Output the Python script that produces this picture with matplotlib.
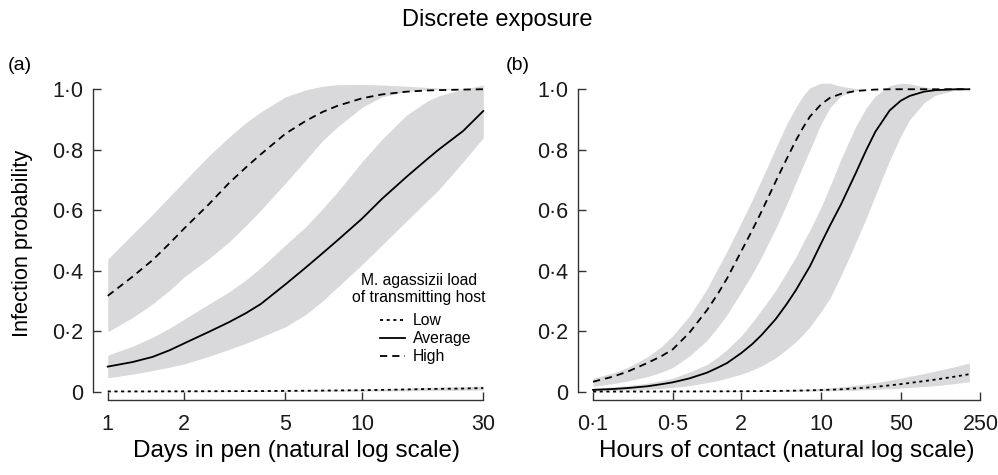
import matplotlib
matplotlib.use('Agg')
import matplotlib.pyplot as plt
from matplotlib.lines import Line2D

plt.rcParams['font.family'] = ['Liberation Sans', 'DejaVu Sans']
plt.rcParams['lines.scale_dashes'] = False

# panel (a): days in pen
days = [1, 1.25, 1.5, 1.75, 2, 2.5, 3, 3.5, 4, 5, 6, 7, 8, 10, 12, 15, 18, 20, 25, 30]
a_low = [0.001, 0.001, 0.001, 0.0012, 0.0013, 0.0016, 0.0018, 0.002, 0.0022, 0.0027,
         0.0032, 0.0037, 0.0042, 0.005, 0.006, 0.0075, 0.009, 0.0095, 0.0105, 0.012]
a_low_hi = [0.002, 0.002, 0.002, 0.0023, 0.0025, 0.0029, 0.0032, 0.0035, 0.0038, 0.0046,
            0.0053, 0.006, 0.0068, 0.008, 0.0095, 0.012, 0.014, 0.015, 0.0165, 0.019]
a_low_lo = [0.0, 0.0, 0.0, 0.0, 0.0001, 0.0003, 0.0005, 0.0006, 0.0007, 0.001,
            0.0012, 0.0014, 0.0017, 0.002, 0.0025, 0.003, 0.004, 0.0043, 0.005, 0.0055]
a_avg = [0.083, 0.098, 0.115, 0.137, 0.16, 0.198, 0.23, 0.26, 0.29, 0.355,
         0.41, 0.458, 0.50, 0.572, 0.638, 0.711, 0.768, 0.80, 0.862, 0.928]
a_avg_hi = [0.121, 0.15, 0.18, 0.21, 0.24, 0.29, 0.33, 0.37, 0.41, 0.485,
            0.545, 0.605, 0.66, 0.76, 0.835, 0.915, 0.96, 0.978, 1.0, 1.014]
a_avg_lo = [0.046, 0.058, 0.07, 0.081, 0.092, 0.117, 0.14, 0.16, 0.18, 0.215,
            0.255, 0.30, 0.345, 0.42, 0.485, 0.565, 0.63, 0.667, 0.76, 0.84]
a_high = [0.317, 0.38, 0.435, 0.49, 0.54, 0.62, 0.69, 0.742, 0.785, 0.853,
          0.895, 0.925, 0.945, 0.97, 0.983, 0.992, 0.996, 0.997, 0.999, 1.0]
a_high_hi = [0.438, 0.52, 0.586, 0.645, 0.696, 0.78, 0.842, 0.89, 0.925, 0.975,
             0.998, 1.01, 1.015, 1.016, 1.014, 1.01, 1.006, 1.004, 1.002, 1.0]
a_high_lo = [0.198, 0.245, 0.29, 0.335, 0.38, 0.44, 0.495, 0.55, 0.60, 0.69,
             0.765, 0.83, 0.875, 0.94, 0.975, 0.993, 0.998, 1.0, 1.0, 1.0]

# panel (b): hours of contact
hours = [0.1, 0.15, 0.2, 0.3, 0.4, 0.5, 0.7, 1, 1.25, 1.5, 2, 2.5, 3, 4, 5, 6, 7, 8, 10, 12,
         15, 20, 25, 30, 40, 50, 60, 80, 100, 150, 200]
b_low = [0.0005, 0.0005, 0.0006, 0.0007, 0.0008, 0.0008, 0.0009, 0.001, 0.0012, 0.0013,
         0.0015, 0.0018, 0.002, 0.0025, 0.003, 0.0035, 0.004, 0.0045, 0.0055, 0.0065,
         0.008, 0.011, 0.0135, 0.016, 0.021, 0.025, 0.029, 0.035, 0.04, 0.05, 0.058]
b_low_hi = [0.001, 0.001, 0.0012, 0.0014, 0.0015, 0.0016, 0.0018, 0.002, 0.0023, 0.0025,
            0.003, 0.0035, 0.004, 0.005, 0.006, 0.007, 0.008, 0.009, 0.011, 0.013,
            0.016, 0.021, 0.026, 0.03, 0.038, 0.045, 0.051, 0.06, 0.068, 0.083, 0.095]
b_low_lo = [0.0, 0.0, 0.0, 0.0, 0.0001, 0.0002, 0.0003, 0.0005, 0.0005, 0.0006,
            0.0008, 0.0009, 0.001, 0.0012, 0.0015, 0.0017, 0.002, 0.0022, 0.0027, 0.0032,
            0.004, 0.005, 0.0065, 0.008, 0.01, 0.012, 0.014, 0.017, 0.02, 0.027, 0.033]
b_avg = [0.006, 0.009, 0.012, 0.018, 0.025, 0.031, 0.044, 0.063, 0.08, 0.095,
         0.128, 0.158, 0.187, 0.24, 0.29, 0.335, 0.378, 0.415, 0.49, 0.55,
         0.62, 0.72, 0.80, 0.86, 0.93, 0.962, 0.978, 0.992, 0.997, 1.0, 1.0]
b_avg_hi = [0.012, 0.016, 0.02, 0.028, 0.037, 0.045, 0.065, 0.09, 0.115, 0.14,
            0.185, 0.23, 0.27, 0.335, 0.395, 0.445, 0.495, 0.535, 0.61, 0.68,
            0.77, 0.875, 0.94, 0.978, 1.012, 1.02, 1.018, 1.008, 1.002, 1.0, 1.0]
b_avg_lo = [0.002, 0.0035, 0.005, 0.008, 0.011, 0.014, 0.02, 0.03, 0.037, 0.045,
            0.058, 0.072, 0.085, 0.112, 0.14, 0.165, 0.19, 0.215, 0.265, 0.31,
            0.385, 0.49, 0.575, 0.65, 0.765, 0.845, 0.90, 0.955, 0.98, 0.997, 1.0]
b_high = [0.033, 0.05, 0.066, 0.095, 0.118, 0.14, 0.195, 0.27, 0.325, 0.375,
          0.465, 0.535, 0.595, 0.695, 0.77, 0.83, 0.875, 0.91, 0.95, 0.972,
          0.985, 0.994, 0.997, 0.999, 1.0, 1.0, 1.0, 1.0, 1.0, 1.0, 1.0]
b_high_hi = [0.045, 0.062, 0.08, 0.115, 0.15, 0.185, 0.25, 0.34, 0.41, 0.465,
             0.56, 0.635, 0.70, 0.805, 0.885, 0.94, 0.98, 1.005, 1.02, 1.02,
             1.01, 1.002, 1.0, 1.0, 1.0, 1.0, 1.0, 1.0, 1.0, 1.0, 1.0]
b_high_lo = [0.018, 0.027, 0.035, 0.05, 0.065, 0.08, 0.118, 0.17, 0.215, 0.255,
             0.33, 0.39, 0.445, 0.54, 0.62, 0.69, 0.75, 0.80, 0.885, 0.94,
             0.978, 0.995, 1.0, 1.0, 1.0, 1.0, 1.0, 1.0, 1.0, 1.0, 1.0]

y_ticks = [0, 0.2, 0.4, 0.6, 0.8, 1.0]
y_labels = ['0', '0·2', '0·4', '0·6', '0·8', '1·0']
a_ticks = [1, 2, 5, 10, 30]
a_labels = ['1', '2', '5', '10', '30']
b_ticks = [0.1, 0.5, 2, 10, 50, 250]
b_labels = ['0·1', '0·5', '2', '10', '50', '250']
legend_labels = ['Low', 'Average', 'High']

band = '#d9d9db'
axcol = '#333333'
low_style = dict(color='black', lw=1.3, dashes=(2.2, 2.6))
avg_style = dict(color='black', lw=1.3)
high_style = dict(color='black', lw=1.3, dashes=(5.2, 3.6))


def draw(ax, x, low, low_hi, low_lo, avg, avg_hi, avg_lo, high, high_hi, high_lo):
    ax.fill_between(x, low_lo, low_hi, color=band, lw=0)
    ax.fill_between(x, avg_lo, avg_hi, color=band, lw=0)
    ax.fill_between(x, high_lo, high_hi, color=band, lw=0)
    ax.plot(x, low, **low_style)
    ax.plot(x, avg, **avg_style)
    ax.plot(x, high, **high_style)


def style(ax, xlim, ticks, labels):
    ax.set_xscale('log')
    ax.set_xlim(*xlim)
    ax.set_ylim(-0.0274, 1.03)
    ax.set_xticks(ticks)
    ax.set_xticklabels(labels)
    ax.xaxis.set_minor_locator(matplotlib.ticker.NullLocator())
    ax.set_yticks(y_ticks)
    ax.set_yticklabels(y_labels)
    for s in ['top', 'right']:
        ax.spines[s].set_visible(False)
    ax.spines['left'].set_bounds(0, 1)
    ax.spines['bottom'].set_bounds(ticks[0], ticks[-1])
    for s in ['left', 'bottom']:
        ax.spines[s].set_color(axcol)
        ax.spines[s].set_linewidth(1.0)
    ax.tick_params(direction='in', length=6, width=1.0, color=axcol, labelsize=15.5, labelcolor='#1a1a1a')
    ax.tick_params(axis='y', pad=7)
    ax.tick_params(axis='x', pad=10)


fig = plt.figure(figsize=(9.98, 4.75), dpi=100)
ax1 = fig.add_axes([0.0932, 0.1579, 0.3978, 0.6733])
ax2 = fig.add_axes([0.5795, 0.1579, 0.4075, 0.6733])

draw(ax1, days, a_low, a_low_hi, a_low_lo, a_avg, a_avg_hi, a_avg_lo, a_high, a_high_hi, a_high_lo)
style(ax1, (0.875, 31.9), a_ticks, a_labels)

draw(ax2, hours, b_low, b_low_hi, b_low_lo, b_avg, b_avg_hi, b_avg_lo, b_high, b_high_hi, b_high_lo)
style(ax2, (0.0743, 274.5), b_ticks, b_labels)

# legend: two-line heading, then the three line styles
fig.text(419 / 998, 1 - 289 / 475, 'M. agassizii load\nof transmitting host', ha='center', va='center',
         multialignment='center', fontsize=11.3, linespacing=1.15)
handles = [Line2D([], [], **low_style), Line2D([], [], **avg_style), Line2D([], [], **high_style)]
ax1.legend(handles, legend_labels, loc='upper left', bbox_to_anchor=(380 / 998, 1 - 313 / 475),
           bbox_transform=fig.transFigure, frameon=False, fontsize=11.3, handlelength=1.6,
           handletextpad=0.5, labelspacing=0.2, borderpad=0, borderaxespad=0)

fig.text(0.498, 0.958, 'Discrete exposure', ha='center', va='center', fontsize=17)
fig.text(0.008, 0.863, '(a)', ha='left', va='center', fontsize=14)
fig.text(0.507, 0.863, '(b)', ha='left', va='center', fontsize=14)
fig.text(0.023, 0.488, 'Infection probability', ha='center', va='center', rotation=90, fontsize=15.7)
fig.text(0.2966, 0.0505, 'Days in pen (natural log scale)', ha='center', va='center', fontsize=17.5)
fig.text(0.7886, 0.0505, 'Hours of contact (natural log scale)', ha='center', va='center', fontsize=17.5)

fig.savefig('out.png', dpi=100)
